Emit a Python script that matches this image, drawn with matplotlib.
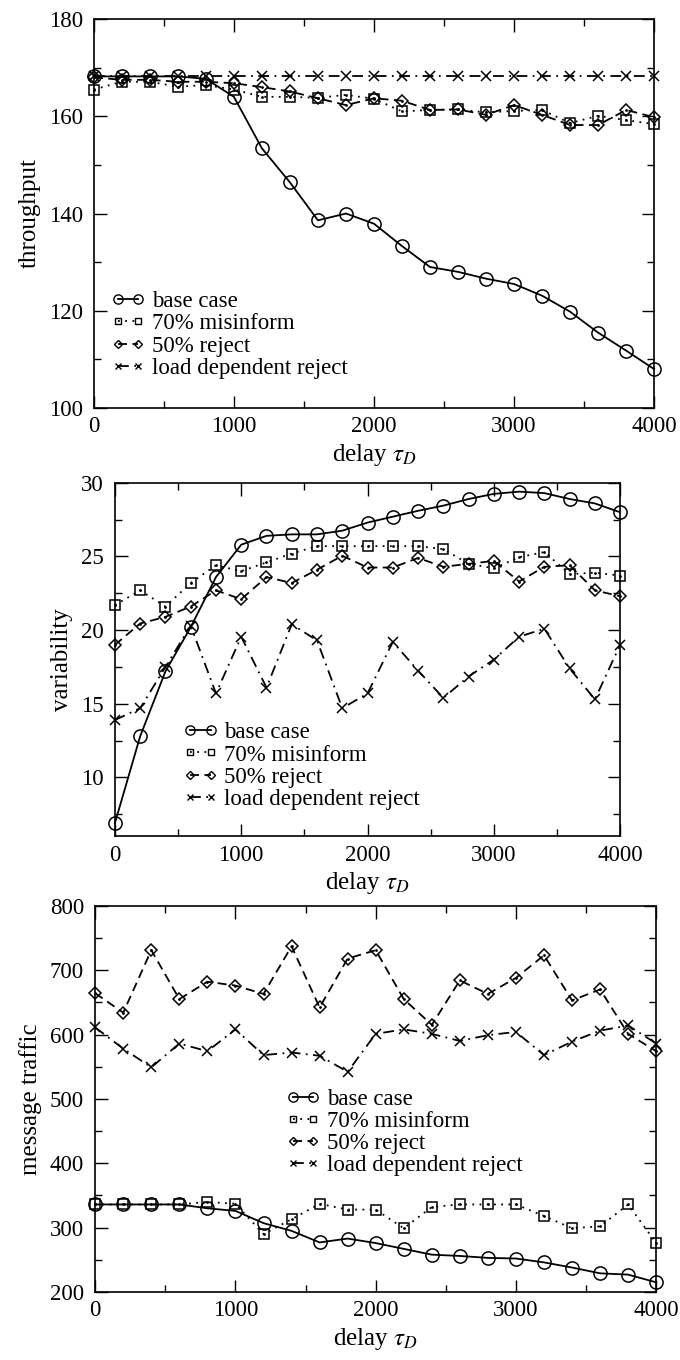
import numpy as np
import matplotlib
matplotlib.use("Agg")
import matplotlib.pyplot as plt
from matplotlib.lines import Line2D
from matplotlib.ticker import MultipleLocator

plt.rcParams["font.family"] = ["Liberation Serif", "DejaVu Serif"]
plt.rcParams["mathtext.fontset"] = "stix"

# ---------------- data ----------------
delay = np.arange(0, 4001, 200)
labels = ["base case", "70% misinform", "50% reject", "load dependent reject"]

thr_base = [168.2, 168.2, 168.2, 168.2, 167.7, 164.0, 153.4, 146.4, 138.6, 140.0, 137.9,
            133.3, 129.0, 128.0, 126.6, 125.5, 123.1, 119.8, 115.5, 111.8, 108.0]
thr_misinform = [165.5, 167.1, 167.1, 166.1, 166.4, 165.5, 164.0, 164.0, 163.8, 164.4, 163.6,
                 161.0, 161.3, 161.4, 160.8, 161.1, 161.3, 158.6, 160.1, 159.2, 158.4]
thr_reject = [168.0, 167.5, 167.5, 167.1, 167.1, 166.8, 166.0, 165.1, 163.7, 162.3, 163.7,
              163.2, 161.3, 161.4, 160.3, 162.3, 160.3, 158.2, 158.2, 161.3, 159.8]
thr_loaddep = [168.2] * 21

var_base = [6.9, 12.8, 17.2, 20.2, 23.6, 25.8, 26.4, 26.5, 26.5, 26.75, 27.3,
            27.7, 28.1, 28.45, 28.9, 29.25, 29.4, 29.3, 28.9, 28.6, 28.0]
var_misinform = [21.7, 22.7, 21.6, 23.2, 24.4, 24.0, 24.6, 25.2, 25.7, 25.7, 25.7,
                 25.7, 25.7, 25.5, 24.5, 24.2, 24.95, 25.3, 23.8, 23.9, 23.7]
var_reject = [19.0, 20.45, 20.9, 21.6, 22.7, 22.1, 23.6, 23.2, 24.1, 25.05, 24.25,
              24.25, 24.9, 24.3, 24.5, 24.7, 23.3, 24.3, 24.4, 22.7, 22.3]
var_loaddep = [13.9, 14.7, 17.5, 20.3, 15.7, 19.55, 16.1, 20.4, 19.3, 14.7, 15.7,
               19.2, 17.25, 15.4, 16.85, 18.0, 19.55, 20.1, 17.4, 15.3, 19.0]

msg_base = [336, 336, 336, 336, 330, 326, 307, 295, 277, 283, 276,
            267, 258, 256, 253, 252, 246, 238, 229, 227, 215]
msg_misinform = [336, 336, 336, 336, 340, 337, 290, 313, 337, 328, 328,
                 299, 332, 336, 336, 336, 318, 299, 302, 336, 276]
msg_reject = [664, 634, 731, 655, 682, 676, 663, 737, 642, 718, 731,
              655, 615, 684, 663, 688, 723, 653, 670, 601, 574]
msg_loaddep = [611, 578, 549, 586, 574, 608, 568, 572, 567, 542, 601,
               608, 601, 590, 599, 604, 568, 589, 606, 614, 586]

styles = [
    dict(ls="-", marker="o", ms=9.5),
    dict(ls=(0, (1, 3)), marker="s", ms=7),
    dict(ls=(0, (5, 3)), marker="D", ms=6.5),
    dict(ls=(0, (6, 3, 1, 3)), marker="x", ms=7),
]

# ---------------- figure ----------------
fig = plt.figure(figsize=(6.8, 13.6), dpi=100)
ax1 = fig.add_axes([0.138, 0.700, 0.824, 0.286])
ax2 = fig.add_axes([0.169, 0.385, 0.743, 0.260])
ax3 = fig.add_axes([0.140, 0.050, 0.825, 0.284])


def draw(ax, series):
    for vals, lab, st in zip(series, labels, styles):
        ax.plot(delay, vals, color="black", lw=1.3, ls=st["ls"], marker=st["marker"],
                ms=st["ms"], mfc="none", mec="black", mew=1.1, clip_on=False)
        if st["marker"] in ("s", "D"):
            ax.plot(delay, vals, ls="none", marker=".", ms=2, color="black", clip_on=False)
    ax.set_xlim(0, 4000)
    ax.xaxis.set_major_locator(MultipleLocator(1000))
    ax.xaxis.set_minor_locator(MultipleLocator(500))
    ax.tick_params(which="both", direction="in", top=True, right=True, labelsize=16.5, width=1)
    ax.tick_params(which="major", length=9)
    ax.tick_params(which="minor", length=5)
    ax.tick_params(axis="y", which="major", pad=8)
    ax.tick_params(axis="x", which="major", pad=6)
    for sp in ax.spines.values():
        sp.set_linewidth(1.2)
    ax.set_xlabel(r"delay $\tau_D$", fontsize=18, labelpad=3)


def legend(ax, x0, y0):
    # smaller markers in the key, like the original
    proxies = [Line2D([], [], color="black", lw=1.3, ls=st["ls"], marker=st["marker"],
                      ms=st["ms"] * 0.7, mfc="none", mec="black", mew=1.0)
               for st in styles]
    ax.legend(proxies, labels, loc="lower left", bbox_to_anchor=(x0, y0), frameon=False,
              numpoints=2, handlelength=1.5, handletextpad=0.3, labelspacing=0.05,
              borderpad=0, borderaxespad=0, fontsize=16.5)


draw(ax1, [thr_base, thr_misinform, thr_reject, thr_loaddep])
ax1.set_ylim(100, 180)
ax1.yaxis.set_major_locator(MultipleLocator(20))
ax1.yaxis.set_minor_locator(MultipleLocator(10))
ax1.set_ylabel("throughput", fontsize=18, labelpad=6)
legend(ax1, 0.03, 0.075)

draw(ax2, [var_base, var_misinform, var_reject, var_loaddep])
ax2.set_ylim(6, 30)
ax2.yaxis.set_major_locator(MultipleLocator(5))
ax2.yaxis.set_minor_locator(MultipleLocator(2.5))
ax2.set_ylabel("variability", fontsize=18, labelpad=6)
legend(ax2, 0.135, 0.075)

draw(ax3, [msg_base, msg_misinform, msg_reject, msg_loaddep])
ax3.set_ylim(200, 800)
ax3.yaxis.set_major_locator(MultipleLocator(100))
ax3.yaxis.set_minor_locator(MultipleLocator(50))
ax3.set_ylabel("message traffic", fontsize=18, labelpad=6)
legend(ax3, 0.34, 0.30)

fig.savefig("out.png", dpi=100)
